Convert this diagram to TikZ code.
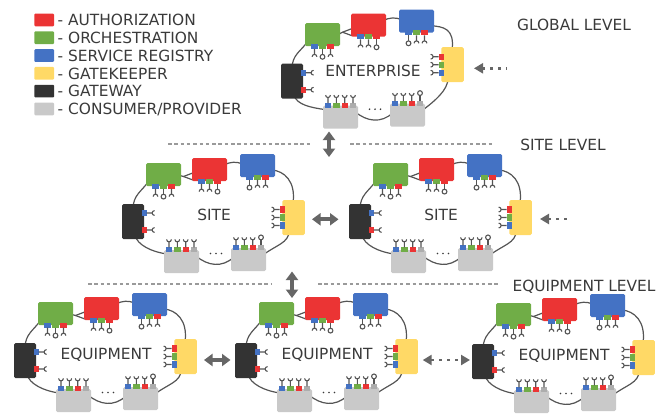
\documentclass[tikz,border=0pt]{standalone}
\usepackage{fontspec}
\setmainfont{DejaVu Sans}
\usetikzlibrary{arrows.meta,calc}

\definecolor{authred}{HTML}{EB3434}
\definecolor{orchgreen}{HTML}{70AD47}
\definecolor{srblue}{HTML}{4472C4}
\definecolor{gkyellow}{HTML}{FFD966}
\definecolor{gwblack}{HTML}{333333}
\definecolor{cpgray}{HTML}{C9C9C9}
\definecolor{tabgray}{HTML}{ADADAD}
\definecolor{inkgray}{HTML}{3A3A3A}
\definecolor{wiregray}{HTML}{555555}
\definecolor{arrowgray}{HTML}{666666}
\definecolor{rulegray}{HTML}{9A9A9A}

\tikzset{
  wire/.style={draw=wiregray, line width=1.1pt},
  cloudline/.style={draw=wiregray, line width=1.2pt},
  unitbox/.style={rectangle, rounded corners=1.5pt, inner sep=0pt, minimum width=35pt, minimum height=23pt},
  sidebox/.style={unitbox, minimum width=22.5pt, minimum height=35pt},
  legendkey/.style={rectangle, rounded corners=1pt, inner sep=0pt, minimum width=19.7pt, minimum height=12.7pt},
  labeltext/.style={font=\fontsize{15.4}{18}\selectfont, text=inkgray, inner sep=0pt},
  levelrule/.style={draw=rulegray, line width=1.2pt, dash pattern=on 3.5pt off 2.8pt},
  blockarrow/.style={draw=arrowgray, line width=4.3pt,
    {Triangle[width=12pt,length=8.5pt]}-{Triangle[width=12pt,length=8.5pt]}},
  dotarrow/.style={draw=arrowgray, line width=2.6pt, dash pattern=on 2.6pt off 5.2pt,
    {Triangle[width=10pt,length=9pt]}-},
  dotdouble/.style={draw=arrowgray, line width=2.6pt, dash pattern=on 2.6pt off 5.4pt,
    {Triangle[width=10pt,length=9pt]}-{Triangle[width=10pt,length=9pt]}},
  % coloured tab on a box edge, with a stem ending in a socket
  sockport/.pic={
    \fill[#1] (-3.2,-2.5) rectangle (3.2,2.5);
    \draw[wire] (0,2.5) -- (0,8) (-2.4,10.4) .. controls (-2.4,7.2) and (2.4,7.2) .. (2.4,10.4);
  },
  % coloured tab on a box edge, with a stem ending in a ball
  ballport/.pic={
    \fill[#1] (-3.2,-2.5) rectangle (3.2,2.5);
    \draw[wire] (0,2.5) -- (0,8);
    \draw[wire, fill=white] (0,10.4) circle[radius=2.4];
  }
}

% #1 name, #2 #3 centre, #4 caption, #5 #6 #7 vertical offsets of the
% orchestration, gatekeeper and gateway boxes
\newcommand\cloudunit[7]{%
\begin{scope}[shift={(#2,#3)}]
  \draw[cloudline] (-81,{-6+#7}) .. controls (-81,{-20+#7}) and (-72,{-24+#5}) .. (-66,{-33+#5})
    -- (-36,{-40+#5}) -- (-30.5,-38.5) -- (-20,-42.5) -- (10,-50)
    .. controls (17,-53.5) and (22,-53.5) .. (29,-51) -- (58,-45)
    .. controls (70,-44) and (82,{-34+#6}) .. (79,{-12+#6}) -- (75,{16+#6})
    .. controls (75,{28+#6}) and (62,30) .. (49,40) -- (20,42)
    .. controls (8,53) and (-6,51) .. (-18,41) -- (-47,39)
    .. controls (-62,37) and (-77,{30+#7}) .. (-79,{20+#7}) -- cycle;
  \draw[cloudline] (-30.5,-38.5) -- (-21,-35);
  \node[unitbox, fill=orchgreen] (#1-orch) at (-50.5,{-40.5+#5}) {};
  \node[unitbox, fill=authred] (#1-auth) at (-4.5,-45.5) {};
  \node[unitbox, fill=srblue] (#1-sr) at (43.5,-49.5) {};
  \node[sidebox, fill=gkyellow] (#1-gk) at (79.5,{2.5+#6}) {};
  \node[sidebox, fill=gwblack, minimum width=22pt] (#1-gw) at (-81,{6.5+#7}) {};
  \node[unitbox, fill=cpgray] (#1-cpa) at (-32.5,46.5) {};
  \node[unitbox, fill=cpgray] (#1-cpb) at (34.5,44.5) {};
  % ports of the orchestration, authorization and registry boxes
  \pic at ($(#1-orch.south)+(-8,0)$) {sockport=srblue};
  \pic at (#1-orch.south) {ballport=orchgreen};
  \pic at ($(#1-orch.south)+(8,0)$) {sockport=authred};
  \pic at ($(#1-auth.south)+(-8,0)$) {sockport=srblue};
  \pic at (#1-auth.south) {sockport=orchgreen};
  \pic at ($(#1-auth.south)+(8,0)$) {ballport=authred};
  \pic at ($(#1-sr.south)+(-8,0)$) {ballport=srblue};
  \pic at (#1-sr.south) {sockport=orchgreen};
  \pic at ($(#1-sr.south)+(8,0)$) {sockport=authred};
  % gatekeeper ports
  \pic[rotate=-90] at ($(#1-gk.west)+(0,-8)$) {sockport=authred};
  \pic[rotate=-90] at (#1-gk.west) {sockport=orchgreen};
  \pic[rotate=-90] at ($(#1-gk.west)+(0,8)$) {sockport=srblue};
  % gateway ports
  \pic[rotate=90] at ($(#1-gw.east)+(0,-8.5)$) {sockport=srblue};
  \pic[rotate=90] at ($(#1-gw.east)+(0,8.5)$) {sockport=authred};
  % consumer / provider ports
  \pic[rotate=180] at ($(#1-cpa.north)+(-12.5,0)$) {sockport=srblue};
  \pic[rotate=180] at ($(#1-cpa.north)+(-4.2,0)$) {sockport=orchgreen};
  \pic[rotate=180] at ($(#1-cpa.north)+(4.2,0)$) {sockport=authred};
  \pic[rotate=180] at ($(#1-cpa.north)+(12.5,0)$) {sockport=tabgray};
  \pic[rotate=180] at ($(#1-cpb.north)+(-12.5,0)$) {sockport=srblue};
  \pic[rotate=180] at ($(#1-cpb.north)+(-4.2,0)$) {sockport=orchgreen};
  \pic[rotate=180] at ($(#1-cpb.north)+(4.2,0)$) {sockport=authred};
  \pic[rotate=180] at ($(#1-cpb.north)+(12.5,0)$) {ballport=tabgray};
  % ellipsis between the consumers
  \fill[inkgray] (-3.5,38.5) circle[radius=0.95] (2,38.5) circle[radius=0.95] (7.5,38.5) circle[radius=0.95];
  \node[labeltext, anchor=base] (#1-name) at (0,5.8) {#4};
\end{scope}}

\begin{document}
\begin{tikzpicture}[x=1pt, y=-1pt]
  \useasboundingbox (0,0) rectangle (661,413);

  % legend
  \node[legendkey, fill=authred]   (key-auth) at (44.2,19.9) {};
  \node[legendkey, fill=orchgreen] (key-orch) at (44.2,37.7) {};
  \node[legendkey, fill=srblue]    (key-sr)   at (44.2,55.5) {};
  \node[legendkey, fill=gkyellow]  (key-gk)   at (44.2,73.3) {};
  \node[legendkey, fill=gwblack]   (key-gw)   at (44.2,91.1) {};
  \node[legendkey, fill=cpgray]    (key-cp)   at (44.2,108.9) {};
  \node[labeltext, anchor=base west] (txt-auth) at (57.5,25.6)  {- AUTHORIZATION};
  \node[labeltext, anchor=base west] (txt-orch) at (57.5,43.4)  {- ORCHESTRATION};
  \node[labeltext, anchor=base west] (txt-sr)   at (57.5,61.2)  {- SERVICE REGISTRY};
  \node[labeltext, anchor=base west] (txt-gk)   at (57.5,79.0)  {- GATEKEEPER};
  \node[labeltext, anchor=base west] (txt-gw)   at (57.5,96.8)  {- GATEWAY};
  \node[labeltext, anchor=base west] (txt-cp)   at (57.5,114.6) {- CONSUMER/PROVIDER};

  % level captions
  \node[labeltext, anchor=base] (lvl-global) at (574,30.3)  {GLOBAL LEVEL};
  \node[labeltext, anchor=base] (lvl-site)   at (563,150)   {SITE LEVEL};
  \node[labeltext, anchor=base] (lvl-equip)  at (584,291.5) {EQUIPMENT LEVEL};

  % level separators
  \draw[levelrule] (168,144) -- (310,144);
  \draw[levelrule] (350,144) -- (492,144);
  \draw[levelrule] (88,284) -- (272,284);
  \draw[levelrule] (318,284) -- (498,284);

  % local clouds
  \cloudunit{ent}{373}{70.7}{ENTERPRISE}{4.5}{-8.5}{4}
  \cloudunit{siteA}{214}{215}{SITE}{0}{0}{0}
  \cloudunit{siteB}{441}{215}{SITE}{0}{0}{0}
  \cloudunit{eqA}{106}{354}{EQUIPMENT}{0}{0}{0}
  \cloudunit{eqB}{327}{354}{EQUIPMENT}{0}{0}{0}
  \cloudunit{eqC}{564}{355}{EQUIPMENT}{0}{0}{0}

  % links between clouds
  \coordinate (up1) at (329,131.5);  \coordinate (dn1) at (329,157);
  \coordinate (up2) at (292,271.5);  \coordinate (dn2) at (292,298);
  \coordinate (siteL) at (312,219.3); \coordinate (siteR) at (338.5,219.3);
  \coordinate (eqL) at (204,360);    \coordinate (eqR) at (230.5,360);
  \coordinate (eqL2) at (422.7,360); \coordinate (eqR2) at (470,360);
  \coordinate (entTip) at (474,68.3); \coordinate (entTail) at (506,68.3);
  \coordinate (siteTip) at (540,219); \coordinate (siteTail) at (568,219);
  \draw[blockarrow] (up1) -- (dn1);
  \draw[blockarrow] (up2) -- (dn2);
  \draw[blockarrow] (siteL) -- (siteR);
  \draw[blockarrow] (eqL) -- (eqR);
  \draw[dotdouble] (eqL2) -- (eqR2);
  \draw[dotarrow] (entTip) -- (entTail);
  \draw[dotarrow] (siteTip) -- (siteTail);
\end{tikzpicture}
\end{document}
